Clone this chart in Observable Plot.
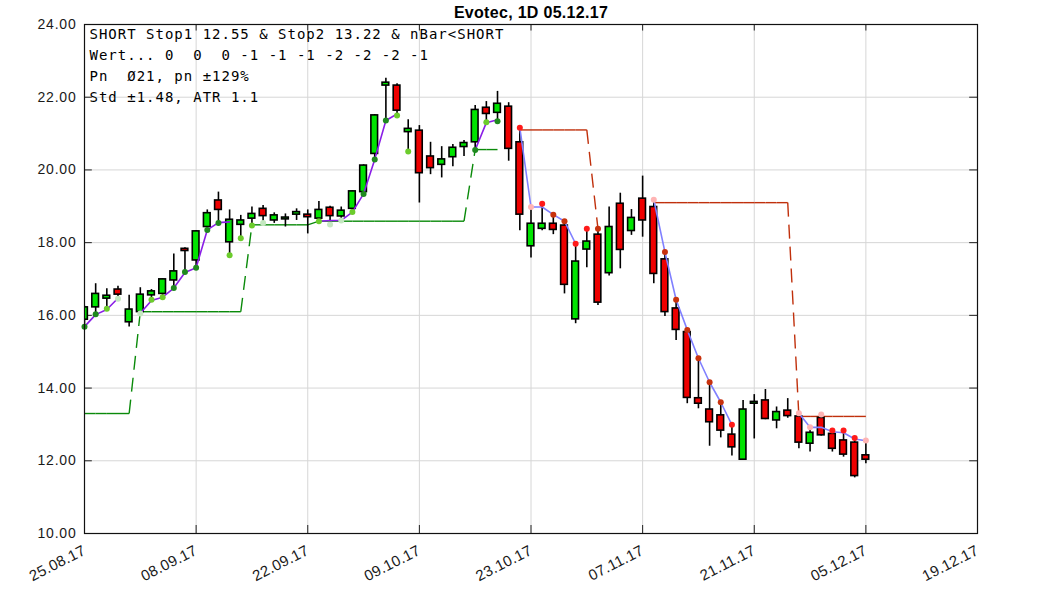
<!DOCTYPE html>
<html><head><meta charset="utf-8">
<script src="https://cdn.jsdelivr.net/npm/d3@7"></script>
<script src="https://cdn.jsdelivr.net/npm/@observablehq/plot@0.6"></script>
<style>
html,body{margin:0;padding:0;background:#fff;}
#chart svg{display:block;}
</style>
</head><body><div id="chart"></div>
<script>
// ---- data ----
const title = "Evotec, 1D 05.12.17";
const infoLines = [
  "SHORT Stop1 12.55 & Stop2 13.22 & nBar<SHORT",
  "Wert... 0  0  0 -1 -1 -1 -2 -2 -2 -1",
  "Pn  Ø21, pn ±129%",
  "Std ±1.48, ATR 1.1"
];
const tickLabels = ["25.08.17","08.09.17","22.09.17","09.10.17","23.10.17","07.11.17","21.11.17","05.12.17","19.12.17"];
const yTickValues = [10,12,14,16,18,20,22,24];

const opens  = [15.88,16.22,16.48,16.71,15.81,16.09,16.55,16.59,16.96,17.83,17.51,18.43,19.16,18.01,18.49,18.66,18.93,18.61,18.66,18.77,18.77,18.66,18.96,18.72,18.93,19.39,20.44,22.32,22.32,21.04,21.08,20.37,20.14,20.35,20.63,20.76,21.71,21.57,21.74,20.76,17.90,18.38,18.52,18.47,15.89,17.81,18.22,17.16,19.07,18.32,19.21,18.98,17.54,16.19,15.54,13.72,13.41,13.25,12.72,12.03,13.59,13.66,13.11,13.38,13.22,12.47,13.18,12.74,12.56,12.50,12.15];
const highs  = [16.25,16.87,16.73,16.80,16.55,16.76,16.71,17.00,17.69,17.86,18.33,18.90,19.39,18.90,18.75,18.98,19.02,18.82,18.79,18.93,18.90,19.13,19.00,18.98,19.42,20.14,21.52,22.52,22.37,21.38,21.22,20.76,20.64,20.70,20.81,21.77,21.88,22.16,21.85,21.16,18.98,19.07,18.77,18.59,17.97,18.38,18.38,18.98,19.36,18.91,19.83,19.18,17.74,16.43,15.60,14.82,14.16,13.61,12.99,13.66,13.82,13.96,13.48,13.71,13.31,12.92,13.27,12.83,12.83,12.63,12.56];
const lows   = [15.69,16.03,16.18,16.46,15.68,16.05,16.43,16.50,16.75,17.19,17.31,18.35,18.54,17.65,18.12,18.47,18.54,18.53,18.43,18.61,18.24,18.59,18.50,18.61,18.84,19.34,20.29,21.36,21.50,20.51,19.09,19.87,19.78,20.09,20.37,20.55,21.31,21.34,20.24,18.33,17.58,18.33,18.22,16.59,15.77,17.31,16.27,17.08,17.28,18.20,18.15,16.87,15.97,15.31,13.57,13.43,12.40,12.63,12.13,12.03,12.60,13.13,12.88,13.17,12.33,12.24,12.68,12.24,12.10,11.53,11.92];
const closes = [16.22,16.59,16.52,16.57,16.16,16.57,16.66,16.99,17.21,17.77,18.31,18.81,18.90,18.63,18.61,18.79,18.73,18.75,18.67,18.84,18.70,18.90,18.73,18.88,19.41,20.12,21.50,22.40,21.63,21.13,19.91,20.05,20.29,20.61,20.74,21.65,21.54,21.82,20.58,18.77,18.52,18.52,18.35,16.84,17.48,18.03,16.35,18.43,17.80,18.68,18.61,17.14,16.09,15.60,13.73,13.57,13.06,12.83,12.37,13.41,13.60,13.15,13.34,13.23,12.50,12.77,12.70,12.33,12.17,11.58,12.03];

// trailing lines (null = no line)
const trailLong = [15.69,16.02,16.16,16.47,null,16.06,16.41,16.50,16.75,17.18,17.31,18.35,18.55,18.57,null,null,null,null,null,null,null,18.59,18.61,18.61,18.84,19.34,20.29,21.36,21.54,null,null,null,null,null,null,20.55,21.30,21.38,null,null,null,null,null,null,null,null,null,null,null,null,null,null,null,null,null,null,null,null,null,null,null,null,null,null,null,null,null,null,null,null,null];
const trailShort = [null,null,null,null,null,null,null,null,null,null,null,null,null,null,null,null,null,null,null,null,null,null,null,null,null,null,null,null,null,null,null,null,null,null,null,null,null,null,null,21.16,18.98,18.98,18.77,18.59,17.97,null,null,null,null,null,null,19.18,17.74,16.43,15.60,14.82,14.16,13.61,12.99,null,null,null,null,null,13.31,12.92,12.92,12.80,12.77,12.60,12.55];
// stop lines
const stopLong = [13.30,13.30,13.30,13.30,13.30,16.10,16.10,16.10,16.10,16.10,16.10,16.10,16.10,16.10,16.10,18.49,18.49,18.49,18.49,18.49,18.49,18.59,18.59,18.59,18.59,18.59,18.59,18.59,18.59,18.59,18.59,18.59,18.59,18.59,18.59,20.56,20.56,20.56,null,null,null,null,null,null,null,null,null,null,null,null,null,null,null,null,null,null,null,null,null,null,null,null,null,null,null,null,null,null,null,null,null];
const stopShort = [null,null,null,null,null,null,null,null,null,null,null,null,null,null,null,null,null,null,null,null,null,null,null,null,null,null,null,null,null,null,null,null,null,null,null,null,null,null,null,21.10,21.10,21.10,21.10,21.10,21.10,21.10,18.38,null,null,null,null,19.10,19.10,19.10,19.10,19.10,19.10,19.10,19.10,19.10,19.10,19.10,19.10,19.10,13.22,13.22,13.22,13.22,13.22,13.22,13.22];
// signal dot levels (0 none, 1 weak, 2 medium, 3 strong)
const longDotLevel  = [3,3,2,1,0,1,2,2,3,3,3,3,3,2,2,2,1,0,0,0,0,2,1,1,2,3,3,3,2,2,0,0,0,0,0,3,2,3];          // bars 0..37, at lows
const shortDotLevel = [0,2,1,2,3,3,2,2,3,0,0,0,0,1,3,3,3,3,3,3,2,0,0,0,0,0,1,1,1,2,2,2,1];                    // bars 38..70, at highs

// ---- derived tables ----
const bars = opens.map((o, i) => ({i, o, h: highs[i], l: lows[i], c: closes[i]}));
const bodies = bars.map(d => {
  const lo = Math.min(d.o, d.c), hi = Math.max(d.o, d.c);
  const pad = hi - lo < 0.04 ? 0.02 : 0;
  return {...d, y1: lo - pad, y2: hi + pad, up: d.c >= d.o};
});
function toPoints(arr) { return arr.map((v, i) => ({i, v})); }
function segs(arr) {
  const out = [];
  for (let i = 0; i + 1 < arr.length; i++) {
    if (arr[i] != null && arr[i + 1] != null)
      out.push({x1: i, x2: i + 1, y1: arr[i], y2: arr[i + 1], jump: Math.abs(arr[i + 1] - arr[i]) > 0.5});
  }
  return out;
}
const longDots = longDotLevel.map((lv, k) => ({i: k, v: lows[k], lv})).filter(d => d.lv > 0);
const shortDots = shortDotLevel.map((lv, k) => ({i: k + 38, v: highs[k + 38], lv})).filter(d => d.lv > 0);
const xTicks = tickLabels.map((_, k) => k * 10);

const GREEN = "#00e400", RED = "#ee0000";
const longDotColors = {1: "#c4e8c0", 2: "#6ccc2c", 3: "#1f8a1f"};
const shortDotColors = {1: "#ffb4b4", 2: "#ff1a1a", 3: "#c8320e"};

const stopLongSegs = segs(stopLong), stopShortSegs = segs(stopShort);

const chart = Plot.plot({
  width: 1063,
  height: 591,
  marginLeft: 84,
  marginRight: 86,
  marginTop: 24,
  marginBottom: 58,
  style: {fontFamily: "Liberation Sans, Arial, sans-serif", fontSize: "14px", color: "#1a1a1a", background: "#fff"},
  x: {domain: [0, 80], ticks: xTicks, tickFormat: v => tickLabels[Math.round(v / 10)], tickRotate: -27, tickSize: 0, tickPadding: 16, label: null},
  y: {domain: [10, 24], ticks: yTickValues, tickFormat: v => v.toFixed(2), tickSize: 0, tickPadding: 8, label: null},
  marks: [
    Plot.ruleY(yTickValues, {stroke: "#d6d6d6", strokeWidth: 1}),
    Plot.ruleX(xTicks, {stroke: "#d6d6d6", strokeWidth: 1}),
    // inward ticks
    Plot.ruleY(yTickValues, {x1: 0, x2: 0.7, stroke: "#222"}),
    Plot.ruleY(yTickValues, {x1: 79.3, x2: 80, stroke: "#222"}),
    Plot.ruleX(xTicks, {y1: 10, y2: 10.22, stroke: "#222"}),
    Plot.ruleX(xTicks, {y1: 23.82, y2: 24, stroke: "#222"}),
    // stop lines
    Plot.link(stopLongSegs.filter(d => !d.jump), {x1: "x1", x2: "x2", y1: "y1", y2: "y2", stroke: "#0a8a0a", strokeWidth: 1.4}),
    Plot.link(stopLongSegs.filter(d => d.jump), {x1: "x1", x2: "x2", y1: "y1", y2: "y2", stroke: "#0a8a0a", strokeWidth: 1.4, strokeDasharray: "14,8"}),
    Plot.link(stopShortSegs.filter(d => !d.jump), {x1: "x1", x2: "x2", y1: "y1", y2: "y2", stroke: "#c0300c", strokeWidth: 1.4}),
    Plot.link(stopShortSegs.filter(d => d.jump), {x1: "x1", x2: "x2", y1: "y1", y2: "y2", stroke: "#c0300c", strokeWidth: 1.4, strokeDasharray: "14,8"}),
    // candles
    Plot.ruleX(bars, {x: "i", y1: "l", y2: "h", stroke: "#000", strokeWidth: 1.6, clip: true}),
    Plot.rect(bodies, {x1: d => d.i - 0.3, x2: d => d.i + 0.3, y1: "y1", y2: "y2", fill: d => d.up ? GREEN : RED, stroke: "#000", strokeWidth: 1.6, clip: true}),
    // trailing lines
    Plot.line(toPoints(trailLong), {x: "i", y: "v", stroke: "#8a1ee6", strokeWidth: 1.6}),
    Plot.line(toPoints(trailShort), {x: "i", y: "v", stroke: "#8080ff", strokeWidth: 1.6}),
    // signal dots
    Plot.dot(longDots, {x: "i", y: "v", r: 3, fill: d => longDotColors[d.lv], stroke: "none"}),
    Plot.dot(shortDots, {x: "i", y: "v", r: 3, fill: d => shortDotColors[d.lv], stroke: "none"}),
    Plot.frame({stroke: "#111", strokeWidth: 1.2}),
    // info box text
    Plot.text([infoLines.join("\n")], {frameAnchor: "top-left", dx: 5, dy: 0, lineAnchor: "top", textAnchor: "start", lineHeight: 1.5, fontFamily: "DejaVu Sans Mono, monospace", fontSize: 14, fill: "#000", className: "info-text"}),
    // title
    Plot.text([title], {frameAnchor: "top", dy: -7, lineAnchor: "bottom", fontWeight: "bold", fontSize: 16, fill: "#000", className: "title-text"})
  ]
});
document.getElementById("chart").appendChild(chart);
const svg = d3.select(chart);
svg.selectAll(".info-text text, text.info-text").style("letter-spacing", "1px");
svg.selectAll(".title-text text, text.title-text").style("letter-spacing", "0.3px");
svg.selectAll('g[aria-label="y-axis tick label"] text').style("letter-spacing", "0.8px");
svg.selectAll('g[aria-label="x-axis tick label"] text').style("letter-spacing", "0.3px").style("font-size", "15px");
</script>
</body></html>
